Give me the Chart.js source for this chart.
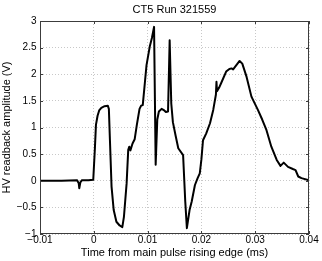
<!DOCTYPE html>
<html>
<head>
<meta charset="utf-8">
<script src="https://cdn.jsdelivr.net/npm/chart.js@4"></script>
<style>
  html, body { margin: 0; padding: 0; background: #fff; }
  canvas { display: block; }
</style>
</head>
<body>
<canvas id="ct5" width="322" height="261"></canvas>
<script>
// time axis (ms) and HV readback (V)
const timeMs = [
  -0.01, -0.006, -0.0031, -0.0028, -0.0027, -0.0025, -0.0022, -0.001, -0.0001,
  0.0002, 0.0004, 0.0007, 0.001, 0.0014, 0.002, 0.0026, 0.0028, 0.003, 0.0033,
  0.0037, 0.0042, 0.0048, 0.0053, 0.0056, 0.0061, 0.0064, 0.0066, 0.0068, 0.0072,
  0.0076, 0.008, 0.0085, 0.0088, 0.0091, 0.0095, 0.0098, 0.0104, 0.0108, 0.0112,
  0.0115, 0.0118, 0.0121, 0.0126, 0.0131, 0.0134, 0.0138, 0.0141, 0.0144, 0.0147,
  0.0152, 0.0157, 0.0166, 0.017, 0.0173, 0.0178, 0.0182, 0.0188, 0.0193, 0.0197,
  0.02, 0.0203, 0.0209, 0.0216, 0.0222, 0.0227, 0.0228, 0.0229, 0.0233, 0.0237,
  0.0246, 0.0252, 0.0256, 0.0259, 0.0265, 0.0271, 0.0276, 0.0284, 0.0293, 0.0305,
  0.0313, 0.0321, 0.033, 0.034, 0.0347, 0.0353, 0.0361, 0.037, 0.0375, 0.038,
  0.0386, 0.04
];
const hvVolts = [
  0, 0, 0.01, -0.05, -0.14, -0.03, 0.01, 0.01, 0.02,
  0.6, 1.05, 1.22, 1.32, 1.37, 1.4, 1.41, 1.35, 0.76, -0.11,
  -0.55, -0.77, -0.84, -0.87, -0.68, -0.05, 0.58, 0.64, 0.57, 0.7,
  0.78, 1.05, 1.35, 1.41, 1.42, 1.85, 2.17, 2.52, 2.68, 2.89,
  0.3, 1.15, 1.3, 1.35, 1.32, 1.29, 1.3, 2.64, 1.45, 1.1,
  0.85, 0.61, 0.48, -0.39, -0.89, -0.55, -0.39, -0.08, 0.05, 0.14,
  0.4, 0.76, 0.89, 1.08, 1.33, 1.62, 1.86, 1.68, 1.75, 1.84,
  2.05, 2.1, 2.11, 2.09, 2.17, 2.25, 2.2, 1.95, 1.58, 1.33,
  1.15, 0.95, 0.64, 0.39, 0.28, 0.34, 0.26, 0.22, 0.2, 0.08,
  0.05, 0.01
];

const xTickValues = [-0.01, 0, 0.01, 0.02, 0.03, 0.04];
const xTickLabels = ['\u22120.01', '0', '0.01', '0.02', '0.03', '0.04'];
const yTickValues = [-1, -0.5, 0, 0.5, 1, 1.5, 2, 2.5, 3];
const yTickLabels = ['\u22121', '\u22120.5', '0', '0.5', '1', '1.5', '2', '2.5', '3'];
const chartTitle = 'CT5 Run 321559';

const FONT = 'Liberation Sans, Arial, Helvetica, sans-serif';
const AXIS = '#3c3c3c';

// matlab style box + inward ticks + title centred over the axes
const boxPlugin = {
  id: 'box',
  afterDraw(chart) {
    const { ctx, chartArea: a, scales } = chart;
    ctx.save();
    ctx.strokeStyle = AXIS;
    ctx.lineWidth = 1;
    ctx.strokeRect(a.left + 0.5, a.top + 0.5, a.right - a.left - 1, a.bottom - a.top - 1);
    ctx.beginPath();
    scales.x.ticks.forEach(t => {
      const px = Math.round(scales.x.getPixelForValue(t.value)) + 0.5;
      ctx.moveTo(px, a.bottom); ctx.lineTo(px, a.bottom - 3);
      ctx.moveTo(px, a.top); ctx.lineTo(px, a.top + 3);
    });
    scales.y.ticks.forEach(t => {
      const py = Math.round(scales.y.getPixelForValue(t.value)) + 0.5;
      ctx.moveTo(a.left, py); ctx.lineTo(a.left + 3, py);
      ctx.moveTo(a.right, py); ctx.lineTo(a.right - 3, py);
    });
    ctx.stroke();

    ctx.fillStyle = '#000';
    ctx.font = '11px ' + FONT;
    ctx.textAlign = 'center';
    ctx.textBaseline = 'middle';
    ctx.fillText(chartTitle, (a.left + a.right) / 2, 10);
    ctx.restore();
  }
};

new Chart(document.getElementById('ct5').getContext('2d'), {
  type: 'line',
  data: {
    datasets: [{
      data: timeMs.map((t, i) => ({ x: t, y: hvVolts[i] })),
      borderColor: '#000',
      borderWidth: 2,
      borderJoinStyle: 'round',
      borderCapStyle: 'round',
      pointRadius: 0,
      tension: 0,
      fill: false
    }]
  },
  options: {
    responsive: false,
    animation: false,
    layout: { padding: { left: 0, right: 13, top: 21, bottom: 0 } },
    plugins: {
      legend: { display: false },
      tooltip: { enabled: false },
      title: { display: false }
    },
    scales: {
      x: {
        type: 'linear',
        min: -0.01, max: 0.04,
        afterBuildTicks: s => { s.ticks = xTickValues.map(v => ({ value: v })); },
        afterFit: s => { s.height = 27; },
        ticks: {
          padding: 0, color: '#000', autoSkip: false, maxRotation: 0,
          font: { family: FONT, size: 10 },
          callback: (v, i) => xTickLabels[i]
        },
        grid: { color: '#c8c8c8', drawTicks: false },
        border: { display: false, dash: [1, 2] },
        title: {
          display: true,
          text: 'Time from main pulse rising edge (ms)',
          color: '#000',
          font: { family: FONT, size: 11 },
          padding: { top: 0, bottom: 1.4 }
        }
      },
      y: {
        min: -1, max: 3,
        afterBuildTicks: s => { s.ticks = yTickValues.map(v => ({ value: v })); },
        afterFit: s => { s.width = 40; },
        ticks: {
          padding: 3.5, color: '#000', autoSkip: false,
          font: { family: FONT, size: 10 },
          callback: (v, i) => yTickLabels[i]
        },
        grid: { color: '#c8c8c8', drawTicks: false },
        border: { display: false, dash: [1, 2] },
        title: {
          display: true,
          text: 'HV readback amplitude (V)',
          color: '#000',
          font: { family: FONT, size: 11 },
          padding: { top: 0.4, bottom: 0 }
        }
      }
    }
  },
  plugins: [boxPlugin]
});
</script>
</body>
</html>
